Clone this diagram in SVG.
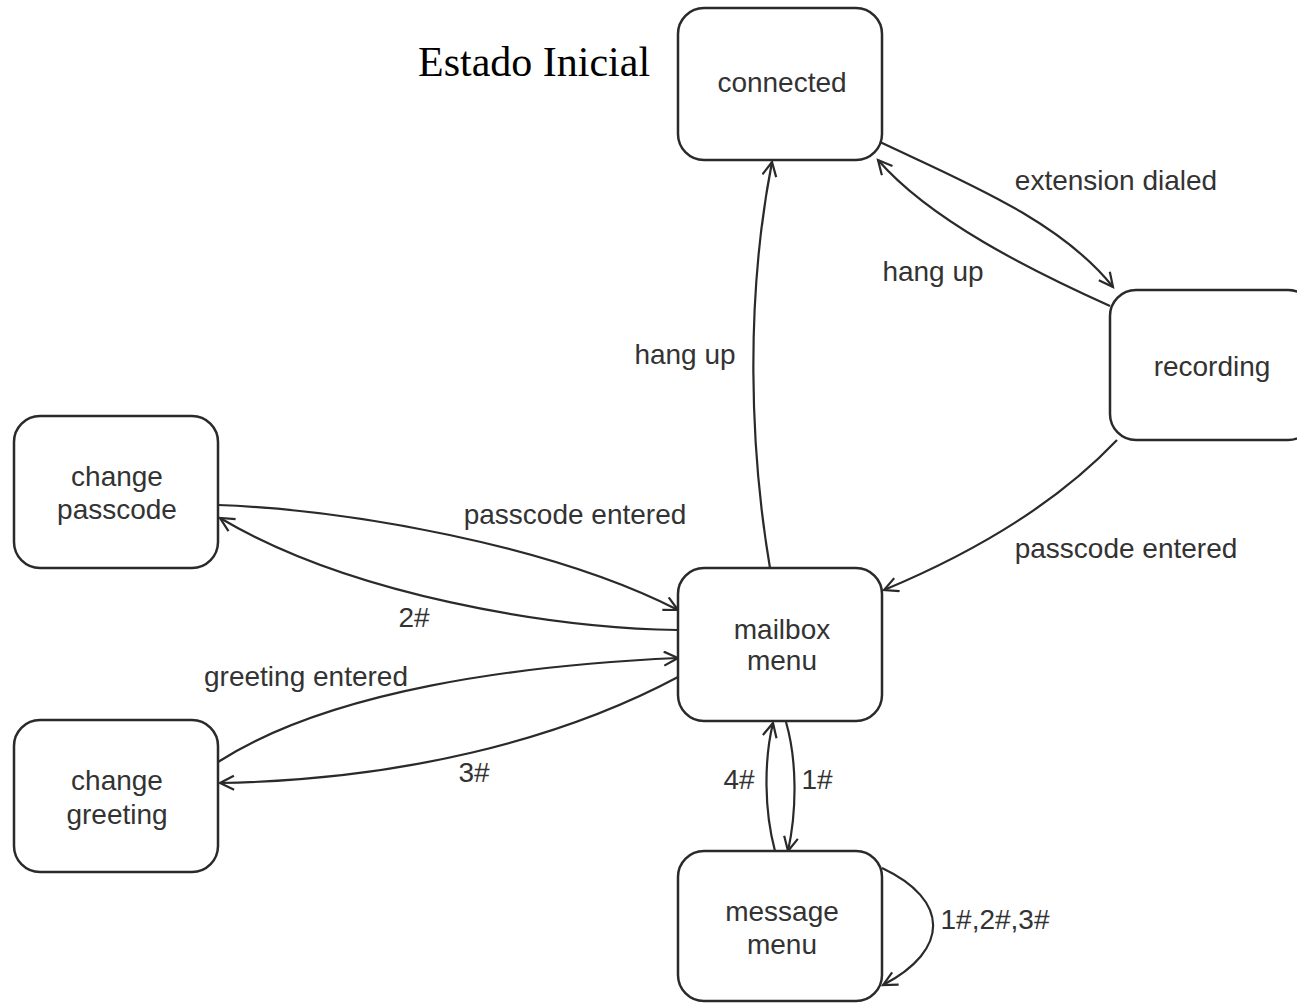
<svg xmlns="http://www.w3.org/2000/svg" width="1297" height="1003" viewBox="0 0 1297 1003">
<defs>
<style>
.node rect{fill:#fff;stroke:#2a2a2a;stroke-width:2.5}
.node text,.lbl{font-family:"Liberation Sans",Arial,sans-serif;font-size:28px;fill:#333;text-anchor:middle}
.edge{fill:none;stroke:#2a2a2a;stroke-width:2.2;marker-end:url(#arr)}
</style>
<marker id="arr" markerWidth="18" markerHeight="18" refX="15" refY="8" orient="auto" markerUnits="userSpaceOnUse">
<path d="M1,1 L15,8 L1,15" fill="none" stroke="#2a2a2a" stroke-width="2.2"/>
</marker>
</defs>
<rect width="1297" height="1003" fill="#fff"/>
<text x="418" y="76" font-family="Liberation Serif,serif" font-size="42" fill="#000">Estado Inicial</text>
<g id="connectors">
<path class="edge" d="M770,568 C750,450 745,300 772,162"/>
<path class="edge" d="M880,142 C960,180 1060,220 1113,287"/>
<path class="edge" d="M1110,306 C1030,270 930,220 878,160"/>
<path class="edge" d="M1117,440 C1060,500 980,550 884,590"/>
<path class="edge" d="M218,505 C350,510 550,545 678,610"/>
<path class="edge" d="M678,630 C550,628 350,595 220,518"/>
<path class="edge" d="M218,762 C330,690 520,665 678,658"/>
<path class="edge" d="M678,677 C560,740 400,780 220,783"/>
<path class="edge" d="M775,851 C764,810 764,760 773,723"/>
<path class="edge" d="M786,722 C797,760 797,810 788,851"/>
<path class="edge" d="M882,868 C950,900 950,950 883,985"/>
<text class="lbl" x="1116" y="190">extension dialed</text>
<text class="lbl" x="933" y="281">hang up</text>
<text class="lbl" x="685" y="364">hang up</text>
<text class="lbl" x="1126" y="558">passcode entered</text>
<text class="lbl" x="575" y="524">passcode entered</text>
<text class="lbl" x="414" y="627">2#</text>
<text class="lbl" x="306" y="686">greeting entered</text>
<text class="lbl" x="474" y="782">3#</text>
<text class="lbl" x="739" y="789">4#</text>
<text class="lbl" x="817" y="789">1#</text>
<text class="lbl" x="995" y="929">1#,2#,3#</text>
</g>
<g id="connected" class="node"><rect x="678" y="8" width="204" height="152" rx="26"/><text x="782" y="92">connected</text></g>
<g id="recording" class="node"><rect x="1110" y="290" width="204" height="150" rx="26"/><text x="1212" y="376">recording</text></g>
<g id="change_passcode" class="node"><rect x="14" y="416" width="204" height="152" rx="26"/><text x="117" y="486">change</text><text x="117" y="519">passcode</text></g>
<g id="mailbox_menu" class="node"><rect x="678" y="568" width="204" height="153" rx="26"/><text x="782" y="639">mailbox</text><text x="782" y="670">menu</text></g>
<g id="change_greeting" class="node"><rect x="14" y="720" width="204" height="152" rx="26"/><text x="117" y="790">change</text><text x="117" y="824">greeting</text></g>
<g id="message_menu" class="node"><rect x="678" y="851" width="204" height="150" rx="26"/><text x="782" y="921">message</text><text x="782" y="954">menu</text></g>
</svg>
